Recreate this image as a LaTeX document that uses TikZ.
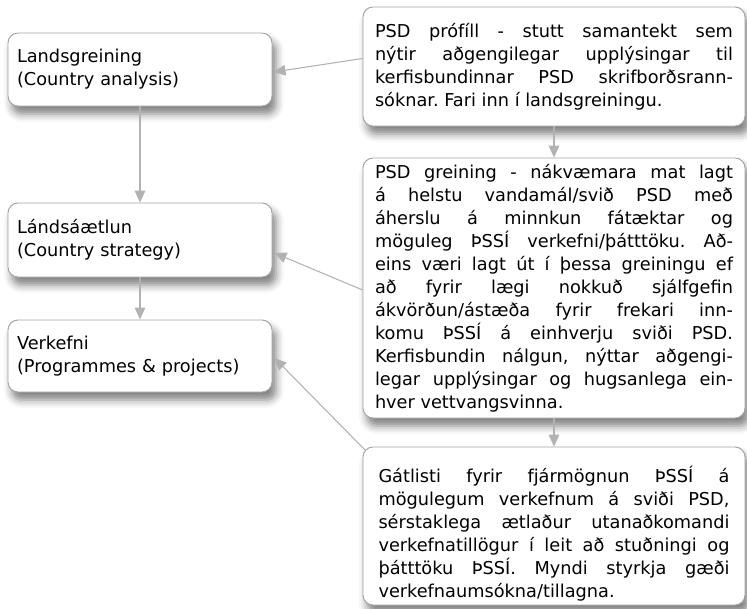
\documentclass[tikz,border=0pt]{standalone}
\usepackage{fontspec}
\setmainfont{DejaVu Sans}
\usepackage{xcolor}
\usepackage{tikz}
\usetikzlibrary{positioning,calc,arrows.meta,shadows.blur}
\definecolor{boxgray}{HTML}{A3A3A3}
\definecolor{linkgray}{HTML}{B2B2B2}
\tikzstyle{phase}=[draw=boxgray, line width=0.7pt, rounded corners=7.5pt, fill=white,
  blur shadow={shadow xshift=3pt, shadow yshift=-6pt, shadow blur radius=6pt, shadow opacity=50},
  minimum width=198pt, text width=184.5pt, inner xsep=6.75pt, inner ysep=0pt, align=left,
  font=\fontsize{13.3pt}{17.25pt}\selectfont,
  execute at begin node={\frenchspacing\hyphenpenalty=10000 \exhyphenpenalty=10000 \tolerance=10000}]
\tikzstyle{note}=[phase, minimum width=286.5pt, text width=268.5pt, inner xsep=9pt, align=justify]
\tikzstyle{link}=[draw=linkgray, line width=0.8pt, -{Triangle[length=9pt,width=8pt,fill=linkgray]}]

\begin{document}
\begin{tikzpicture}[x=0.75pt, y=-0.75pt]
	\useasboundingbox (0,0) rectangle (747,608);
	
	% left column
	\node[phase, minimum height=54.75pt] (ctry) at (140,69.5) {Landsgreining\\(Country analysis)};
	\node[phase, minimum height=55.5pt] (strat) at (140,240) {Lándsáætlun\\(Country strategy)};
	\node[phase, minimum height=54pt] (proj) at (140,356) {Verkefni\\(Programmes \& projects)};
	
	% right column
	\node[note, minimum height=89.25pt] (prof) at (554,66.5) {PSD prófíll - stutt samantekt sem\linebreak
		nýtir aðgengilegar upplýsingar til\linebreak
		kerfisbundinnar PSD skrifborðsrann-\linebreak
		sóknar. Fari inn í landsgreiningu.};
	\node[note, minimum height=195pt] (anal) at (554,288) {PSD greining - nákvæmara mat lagt\linebreak
		á helstu vandamál/svið PSD með\linebreak
		áherslu á minnkun fátæktar og\linebreak
		möguleg ÞSSÍ verkefni/þátttöku. Að-\linebreak
		eins væri lagt út í þessa greiningu ef\linebreak
		að fyrir lægi nokkuð sjálfgefin\linebreak
		ákvörðun/ástæða fyrir frekari inn-\linebreak
		komu ÞSSÍ á einhverju sviði PSD.\linebreak
		Kerfisbundin nálgun, nýttar aðgengi-\linebreak
		legar upplýsingar og hugsanlega ein-\linebreak
		hver vettvangsvinna.};
	\node[note, minimum height=118.5pt, text width=263.25pt, inner xsep=11.6pt] (check) at (554,526) {Gátlisti fyrir fjármögnun ÞSSÍ á\linebreak
		mögulegum verkefnum á sviði PSD,\linebreak
		sérstaklega ætlaður utanaðkomandi\linebreak
		verkefnatillögur í leit að stuðningi og\linebreak
		þátttöku ÞSSÍ. Myndi styrkja gæði\linebreak
		verkefnaumsókna/tillagna.\par\kern-12pt};
	
	\draw[link] (ctry) -- (strat);
	\draw[link] (strat) -- (proj);
	\draw[link] (prof) -- (anal);
	\draw[link] (anal) -- (check);
	\draw[link] ($(prof.west)+(0,-8)$) -- ($(ctry.east)+(1,2.5)$);
	\draw[link] ($(anal.west)+(0,2)$) -- ($(strat.east)+(2,13)$);
	\draw[link] ($(check.north west)+(3,4)$) -- ($(proj.east)+(2,2)$);
\end{tikzpicture}
\end{document}
